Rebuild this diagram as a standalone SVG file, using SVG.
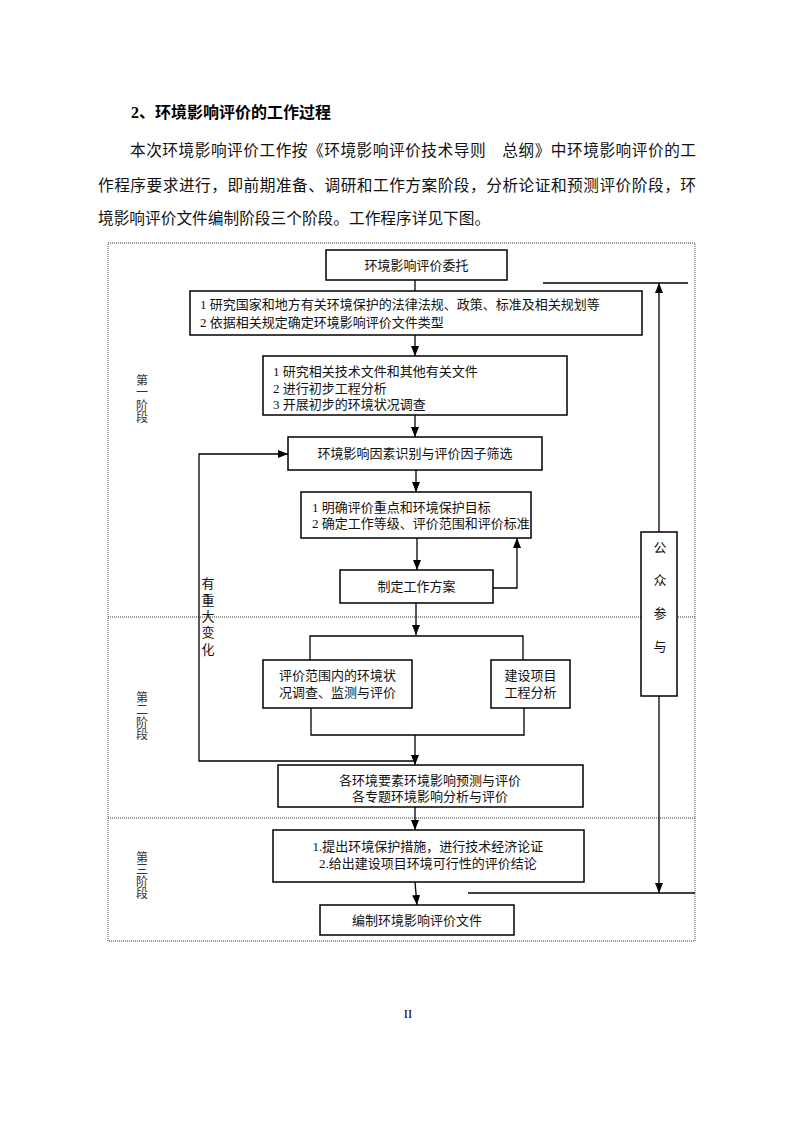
<svg xmlns="http://www.w3.org/2000/svg" width="794" height="1123" viewBox="0 0 794 1123">
<style>
.body{font-family:"Noto Sans CJK SC","Liberation Serif",sans-serif;font-size:15.7px;fill:#111}
.title{font-family:"Liberation Serif","Noto Sans CJK SC",serif;font-size:16px;font-weight:bold;fill:#000}
.box{fill:#fff;stroke:#000;stroke-width:1.5}
.t{font-family:"Liberation Serif","Noto Sans CJK SC",serif;font-size:13px;fill:#111}
.c{text-anchor:middle}
.v{writing-mode:vertical-rl;text-orientation:upright}
.stage{font-family:"Noto Sans CJK SC",sans-serif;font-size:12px;fill:#333}
.ln{fill:none;stroke:#000;stroke-width:1.3}
.arr{marker-end:url(#ah)}
.dot{fill:none;stroke:#777;stroke-width:1.3;stroke-dasharray:1 1}
</style>
<defs>
<marker id="ah" viewBox="0 0 10 8" refX="10" refY="4" markerWidth="10" markerHeight="8" markerUnits="userSpaceOnUse" orient="auto">
<path d="M0,0 L10,4 L0,8 z" fill="#000"/>
</marker>
</defs>
<rect width="794" height="1123" fill="#fff"/>

<g id="heading">
<text class="title" x="131" y="118">2、环境影响评价的工作过程</text>
<text class="body" x="130" y="156" textLength="566" lengthAdjust="spacing">本次环境影响评价工作按《环境影响评价技术导则　总纲》中环境影响评价的工</text>
<text class="body" x="98" y="191" textLength="598" lengthAdjust="spacing">作程序要求进行，即前期准备、调研和工作方案阶段，分析论证和预测评价阶段，环</text>
<text class="body" x="98" y="224">境影响评价文件编制阶段三个阶段。工作程序详见下图。</text>
</g>

<g id="frame">
<rect class="dot" x="108" y="243" width="587" height="698"/>
<line class="dot" x1="108" y1="617" x2="695" y2="617"/>
<line class="dot" x1="108" y1="818" x2="695" y2="818"/>
</g>

<g id="stage1"><text class="stage v" x="142" y="374" style="letter-spacing:0.6px">第一阶段</text></g>
<g id="stage2"><text class="stage v" x="142" y="691" style="letter-spacing:0.6px">第二阶段</text></g>
<g id="stage3"><text class="stage v" x="142" y="851" style="letter-spacing:0px">第三阶段</text></g>

<g id="connectors">
<line class="ln" x1="415" y1="280" x2="415" y2="291"/>
<line class="ln arr" x1="415" y1="335" x2="415" y2="356"/>
<line class="ln arr" x1="415" y1="415" x2="415" y2="437"/>
<line class="ln arr" x1="416" y1="470" x2="416" y2="492"/>
<line class="ln arr" x1="417" y1="538" x2="417" y2="570"/>
<polyline class="ln arr" points="493,588 517,588 517,538"/>
<line class="ln arr" x1="416" y1="603" x2="416" y2="635"/>
<polyline class="ln" points="310,660 310,636 523,636 523,660"/>
<polyline class="ln" points="311,708 311,735 524,735 524,708"/>
<line class="ln arr" x1="415" y1="735" x2="415" y2="765"/>
<polyline class="ln arr" points="415,761 199,761 199,454 288,454"/>
<line class="ln arr" x1="415" y1="807" x2="415" y2="830"/>
<line class="ln arr" x1="415" y1="882" x2="417" y2="905"/>
<line class="ln arr" x1="659" y1="532" x2="659" y2="283"/>
<line class="ln" x1="543" y1="283" x2="688" y2="283"/>
<line class="ln arr" x1="659" y1="696" x2="659" y2="893"/>
<line class="ln" x1="468" y1="893" x2="695" y2="893"/>
</g>

<g id="change-label"><text class="t v" x="207" y="577" style="letter-spacing:3.3px">有重大变化</text></g>

<g id="n1"><rect class="box" x="326" y="250" width="181" height="30"/>
<text class="t c" x="416.5" y="270">环境影响评价委托</text></g>

<g id="n2"><rect class="box" x="190" y="291" width="452" height="44"/>
<text class="t" x="200" y="309">1 研究国家和地方有关环境保护的法律法规、政策、标准及相关规划等</text>
<text class="t" x="200" y="327">2 依据相关规定确定环境影响评价文件类型</text></g>

<g id="n3"><rect class="box" x="263" y="356" width="304" height="59"/>
<text class="t" x="273" y="376">1 研究相关技术文件和其他有关文件</text>
<text class="t" x="273" y="393">2 进行初步工程分析</text>
<text class="t" x="273" y="409">3 开展初步的环境状况调查</text></g>

<g id="n4"><rect class="box" x="288" y="437" width="254" height="33"/>
<text class="t c" x="415" y="458">环境影响因素识别与评价因子筛选</text></g>

<g id="n5"><rect class="box" x="301" y="492" width="230" height="46"/>
<text class="t" x="312" y="512">1 明确评价重点和环境保护目标</text>
<text class="t" x="312" y="528">2 确定工作等级、评价范围和评价标准</text></g>

<g id="n6"><rect class="box" x="340" y="570" width="153" height="33"/>
<text class="t c" x="416.5" y="591">制定工作方案</text></g>

<g id="n7"><rect class="box" x="263" y="660" width="149" height="48"/>
<text class="t c" x="337.5" y="680">评价范围内的环境状</text>
<text class="t c" x="337.5" y="697">况调查、监测与评价</text></g>

<g id="n8"><rect class="box" x="491" y="660" width="79" height="48"/>
<text class="t c" x="530.5" y="680">建设项目</text>
<text class="t c" x="530.5" y="697">工程分析</text></g>

<g id="n9"><rect class="box" x="278" y="765" width="305" height="42"/>
<text class="t c" x="430" y="785">各环境要素环境影响预测与评价</text>
<text class="t c" x="430" y="801">各专题环境影响分析与评价</text></g>

<g id="n10"><rect class="box" x="273" y="830" width="311" height="52"/>
<text class="t c" x="428" y="851">1.提出环境保护措施，进行技术经济论证</text>
<text class="t c" x="428" y="868">2.给出建设项目环境可行性的评价结论</text></g>

<g id="n11"><rect class="box" x="320" y="905" width="194" height="30"/>
<text class="t c" x="417" y="925">编制环境影响评价文件</text></g>

<g id="public"><rect class="box" x="641" y="532" width="36" height="164"/>
<text class="t v" x="659" y="541" style="letter-spacing:19.7px">公众参与</text></g>

<g id="pagenum">
<text x="408" y="1018" style="font-family:'Liberation Serif',serif;font-size:12.5px;fill:#000;text-anchor:middle">II</text>
</g>
</svg>
